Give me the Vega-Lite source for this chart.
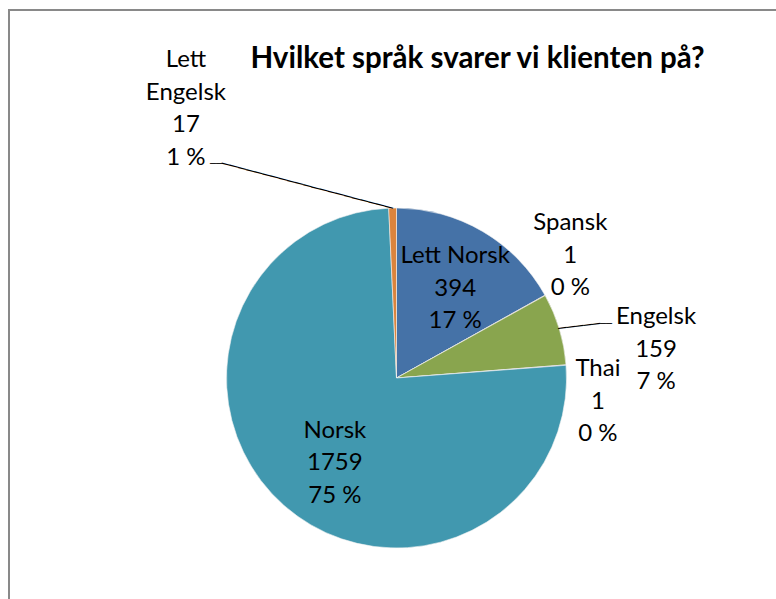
{
  "$schema": "https://vega.github.io/schema/vega-lite/v6.json",
  "width": 775,
  "height": 736,
  "autosize": {"type": "none"},
  "padding": {"left": 9, "top": 10, "right": -8, "bottom": -147},
  "background": "white",
  "view": {"stroke": "#898989", "strokeWidth": 2, "fill": null},
  "config": {"font": "Lato"},
  "title": {"text": "Hvilket språk svarer vi klienten på?", "font": "Lato", "fontSize": 29.5, "fontWeight": "bold", "color": "#000000", "anchor": "middle", "frame": "group", "dx": 81, "offset": -87, "baseline": "alphabetic"},
  "data": {"values": [
    {"language": "Lett Norsk", "value": 394, "order": 1},
    {"language": "Spansk", "value": 1, "order": 2},
    {"language": "Engelsk", "value": 159, "order": 3},
    {"language": "Thai", "value": 1, "order": 4},
    {"language": "Norsk", "value": 1759, "order": 5},
    {"language": "Lett Engelsk", "value": 17, "order": 6}
  ]},
  "transform": [
    {"joinaggregate": [{"op": "sum", "field": "value", "as": "total"}]},
    {"calculate": "datum.language === 'Lett Engelsk' ? ['Lett', 'Engelsk', '' + datum.value, format(datum.value / datum.total * 100, '.0f') + ' %'] : [datum.language, '' + datum.value, format(datum.value / datum.total * 100, '.0f') + ' %']", "as": "label"}
  ],
  "encoding": {
    "theta": {"field": "value", "type": "quantitative", "stack": true},
    "order": {"field": "order", "type": "quantitative"}
  },
  "layer": [
    {
      "mark": {"type": "arc", "outerRadius": 170, "stroke": "#f2f2f2", "strokeWidth": 0.6},
      "encoding": {
        "color": {"field": "language", "type": "nominal", "legend": null,
          "scale": {"domain": ["Lett Norsk", "Spansk", "Engelsk", "Thai", "Norsk", "Lett Engelsk"],
                    "range": ["#4572A7", "#AA4643", "#89A54E", "#80699B", "#4198AF", "#DB843D"]}}
      }
    },
    {
      "mark": {"type": "text", "radius": 169, "angle": 14.8, "align": "right", "baseline": "middle", "font": "DejaVu Sans", "fontSize": 14, "color": "#000000", "text": "─────────────────────"},
      "encoding": {"opacity": {"condition": {"test": "datum.language === 'Lett Engelsk'", "value": 1}, "value": 0}}
    },
    {
      "mark": {"type": "text", "radius": 169, "dx": -170.6, "dy": -45.5, "align": "right", "baseline": "middle", "font": "DejaVu Sans", "fontSize": 10, "color": "#000000", "text": "──"},
      "encoding": {"opacity": {"condition": {"test": "datum.language === 'Lett Engelsk'", "value": 1}, "value": 0}}
    },
    {
      "mark": {"type": "text", "radius": 169, "angle": -7, "align": "left", "baseline": "middle", "font": "DejaVu Sans", "fontSize": 14, "color": "#000000", "text": "─────"},
      "encoding": {"opacity": {"condition": {"test": "datum.language === 'Engelsk'", "value": 1}, "value": 0}}
    },
    {
      "mark": {"type": "text", "radius": 169, "dx": 41.7, "dy": -5.4, "align": "left", "baseline": "middle", "font": "DejaVu Sans", "fontSize": 10, "color": "#000000", "text": "──"},
      "encoding": {"opacity": {"condition": {"test": "datum.language === 'Engelsk'", "value": 1}, "value": 0}}
    },
    {
      "mark": {"type": "text", "radius": 106, "dx": 5, "dy": -30.5, "fontSize": 24, "lineHeight": 32.5, "font": "Lato", "color": "#000000", "baseline": "middle", "align": "center"},
      "encoding": {"text": {"field": "label", "type": "nominal"}, "opacity": {"condition": {"test": "datum.language === 'Lett Norsk'", "value": 1}, "value": 0}}
    },
    {
      "mark": {"type": "text", "radius": 200, "dx": -1, "dy": -57.5, "fontSize": 24, "lineHeight": 32.5, "font": "Lato", "color": "#000000", "baseline": "middle", "align": "center"},
      "encoding": {"text": {"field": "label", "type": "nominal"}, "opacity": {"condition": {"test": "datum.language === 'Spansk'", "value": 1}, "value": 0}}
    },
    {
      "mark": {"type": "text", "radius": 200, "dx": 68, "dy": -3, "fontSize": 24, "lineHeight": 32.5, "font": "Lato", "color": "#000000", "baseline": "middle", "align": "center"},
      "encoding": {"text": {"field": "label", "type": "nominal"}, "opacity": {"condition": {"test": "datum.language === 'Engelsk'", "value": 1}, "value": 0}}
    },
    {
      "mark": {"type": "text", "radius": 200, "dx": 2, "dy": 6.5, "fontSize": 24, "lineHeight": 32.5, "font": "Lato", "color": "#000000", "baseline": "middle", "align": "center"},
      "encoding": {"text": {"field": "label", "type": "nominal"}, "opacity": {"condition": {"test": "datum.language === 'Thai'", "value": 1}, "value": 0}}
    },
    {
      "mark": {"type": "text", "radius": 105, "dx": 8, "dy": -26, "fontSize": 24, "lineHeight": 32.5, "font": "Lato", "color": "#000000", "baseline": "middle", "align": "center"},
      "encoding": {"text": {"field": "label", "type": "nominal"}, "opacity": {"condition": {"test": "datum.language === 'Norsk'", "value": 1}, "value": 0}}
    },
    {
      "mark": {"type": "text", "radius": 200, "dx": -206, "dy": -118, "fontSize": 24, "lineHeight": 32.5, "font": "Lato", "color": "#000000", "baseline": "middle", "align": "center"},
      "encoding": {"text": {"field": "label", "type": "nominal"}, "opacity": {"condition": {"test": "datum.language === 'Lett Engelsk'", "value": 1}, "value": 0}}
    }
  ]
}
